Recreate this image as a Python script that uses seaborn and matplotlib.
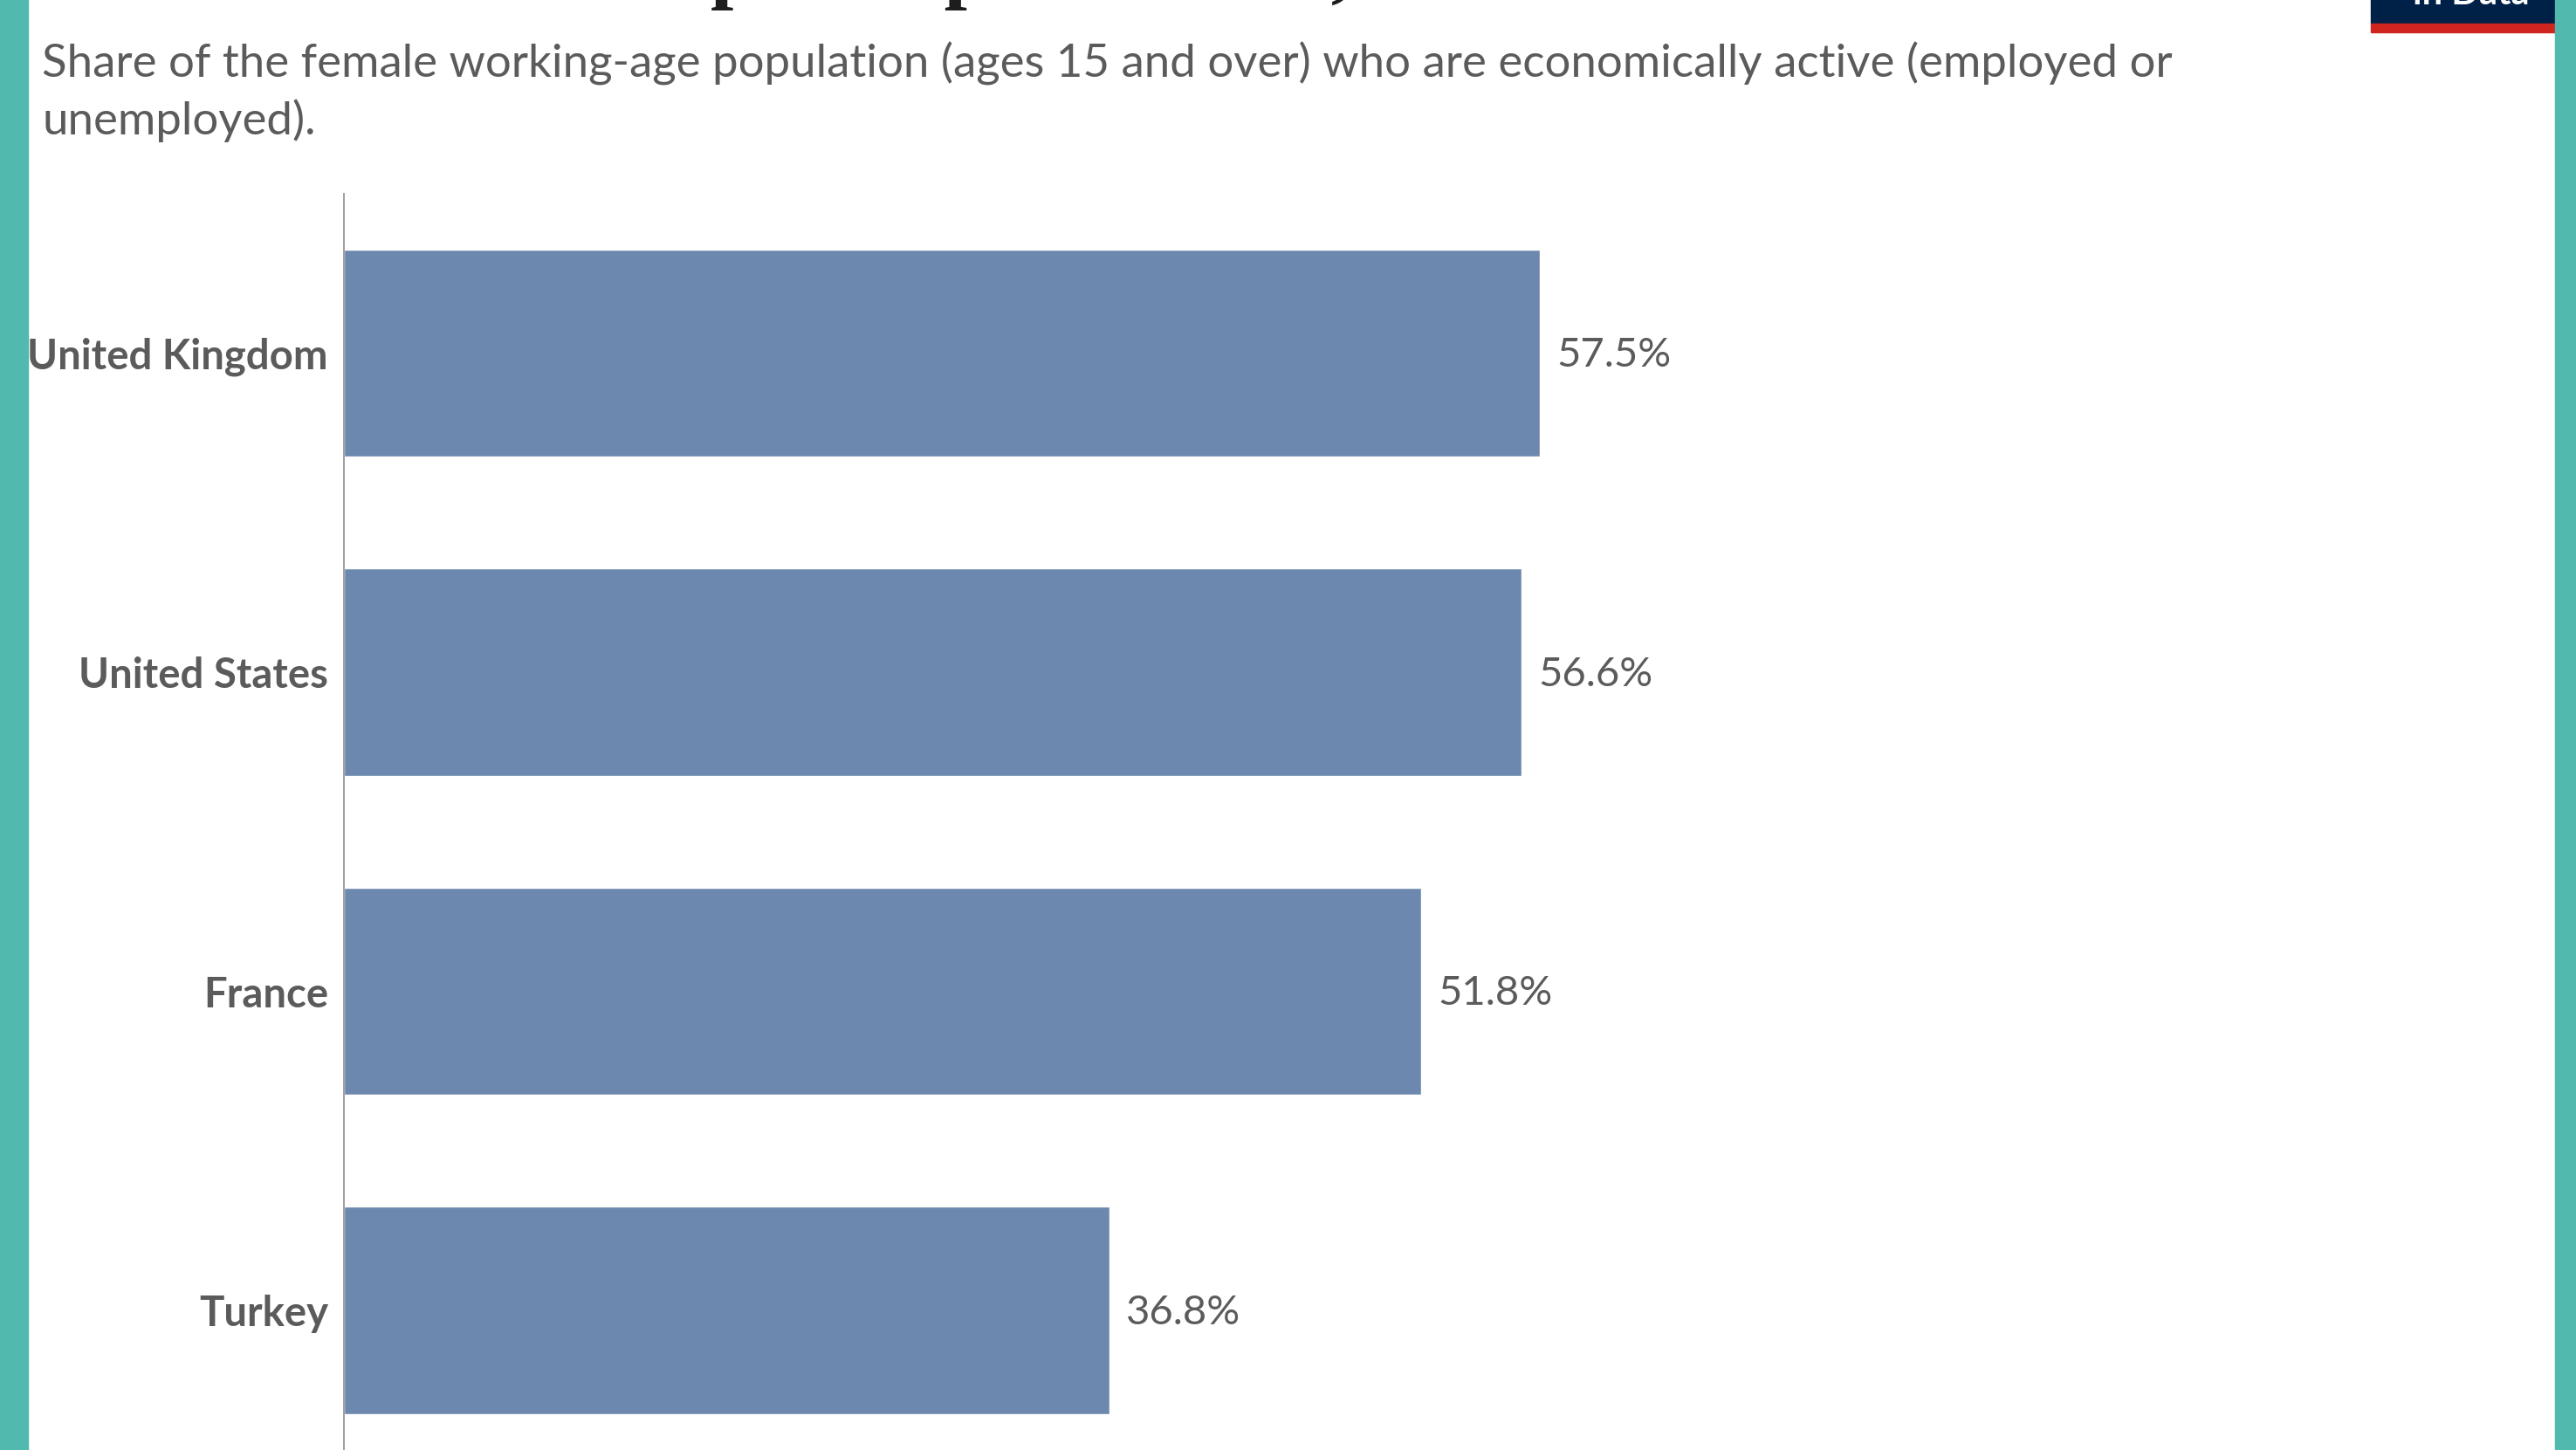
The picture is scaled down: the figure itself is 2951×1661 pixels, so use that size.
import matplotlib
matplotlib.use("Agg")
import matplotlib.pyplot as plt
import seaborn as sns
import pandas as pd
from matplotlib.patches import Rectangle

countries = ["United Kingdom", "United States", "France", "Turkey"]
values = [57.5, 56.6, 51.8, 36.8]
value_labels = ["57.5%", "56.6%", "51.8%", "36.8%"]
title = "Female labor force participation rate, 2017"
subtitle_lines = [
    "Share of the female working-age population (ages 15 and over) who are economically active (employed or",
    "unemployed).",
]
logo_text = "in Data"

W, H = 2951, 1661
DPI = 100
sns.set_theme(style="white")
plt.rcParams['font.family'] = ['Lato', 'DejaVu Sans']

fig = plt.figure(figsize=(W / DPI, H / DPI), dpi=DPI)
fig.patch.set_facecolor("white")


def fx(px):
    return px / W


def fy(py):
    return 1 - py / H


TEXT = "#5b5b5b"
BAR = "#6d88ae"
TEAL = "#52b9ae"

ax = fig.add_axes([fx(394), 0, fx(2777) - fx(394), (H - 222) / H])
df = pd.DataFrame({"country": countries, "value": values})
sns.barplot(data=df, x="value", y="country", color=BAR, saturation=1,
            width=0.65, ax=ax)
ax.set_xlim(0, 100)
ax.set_ylim(3.438, -0.5)
ax.set_xlabel("")
ax.set_ylabel("")
ax.set_xticks([])
for s in ["top", "right", "bottom"]:
    ax.spines[s].set_visible(False)
ax.spines["left"].set_color("#a0a0a0")
ax.spines["left"].set_linewidth(1.4)
ax.tick_params(axis="y", length=0, pad=13, labelsize=34, labelcolor=TEXT)
for t in ax.get_yticklabels():
    t.set_fontweight("bold")
ax.set_facecolor("none")

for i, (v, lab) in enumerate(zip(values, value_labels)):
    ax.annotate(lab, xy=(v, i), xytext=(14, -2), textcoords="offset points",
                va="center", ha="left", fontsize=34, color=TEXT)

# Title (mostly cropped off the top)
fig.text(fx(33), fy(-8), title, fontfamily="Liberation Serif", fontweight="bold",
         fontsize=68, color="#1d1d1d", va="baseline", ha="left")

# Subtitle
fig.text(fx(48), fy(89), subtitle_lines[0], fontsize=38, color=TEXT,
         va="baseline", ha="left")
fig.text(fx(48), fy(154), subtitle_lines[1], fontsize=38, color=TEXT,
         va="baseline", ha="left")

# Logo
fig.patches.append(Rectangle((fx(2716), fy(27)), fx(2927) - fx(2716), 27 / H + 0.01,
                             transform=fig.transFigure, color="#002147", zorder=5))
fig.patches.append(Rectangle((fx(2716), fy(37)), fx(2927) - fx(2716), 10 / H,
                             transform=fig.transFigure, color="#ce261e", zorder=5))
fig.text(fx(2831), fy(5), logo_text, ha="center", va="baseline", color="white",
         fontweight="bold", fontsize=30, zorder=6)

# Side borders
fig.patches.append(Rectangle((0, 0), fx(32), 1, transform=fig.transFigure,
                             color=TEAL, zorder=5))
fig.patches.append(Rectangle((fx(2927), 0), 1 - fx(2927), 1, transform=fig.transFigure,
                             color=TEAL, zorder=5))

fig.savefig("out.png", dpi=DPI)
